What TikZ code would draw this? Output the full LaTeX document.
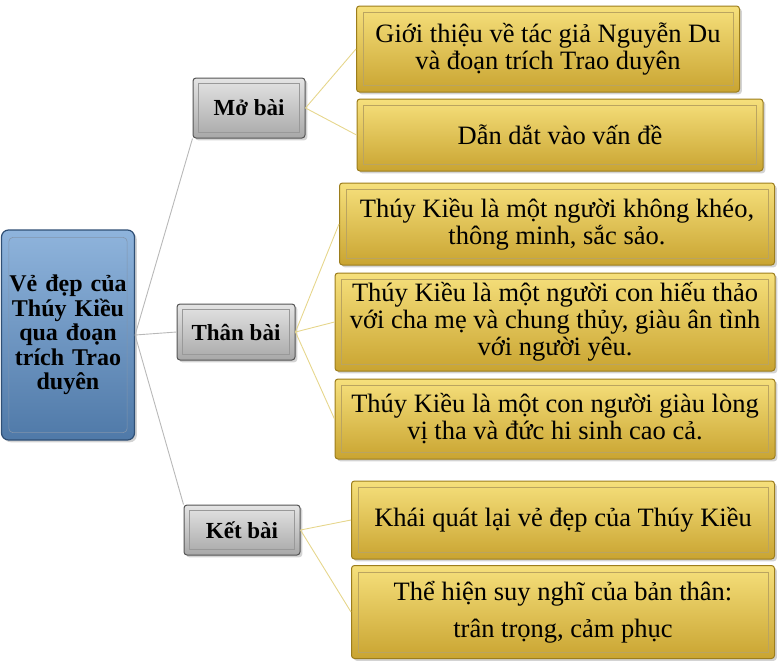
\documentclass[tikz,border=0pt]{standalone}
\usepackage{fontspec}
\setmainfont{Liberation Serif}
\usetikzlibrary{shadows,calc}
\definecolor{goldlight}{HTML}{F6E07C}
\definecolor{golddark}{HTML}{C9A431}
\definecolor{goldedge}{HTML}{9C7D1C}
\definecolor{bluelight}{HTML}{8FB4DC}
\definecolor{bluedark}{HTML}{4F79A8}
\definecolor{blueedge}{HTML}{2F4F75}
\definecolor{graylight}{HTML}{E4E4E4}
\definecolor{graydark}{HTML}{A8A8A8}
\definecolor{grayedge}{HTML}{555555}
\definecolor{lvlone}{HTML}{B8B8B8}
\definecolor{lvltwo}{HTML}{E6D68C}
\tikzset{
  rootbox/.style={rectangle, rounded corners=7pt, top color=bluelight, bottom color=bluedark,
    draw=blueedge, line width=1.2pt, drop shadow={opacity=0.35},
    align=center, font=\fontsize{24}{24.5}\selectfont\bfseries, inner sep=2pt},
  graybox/.style={rectangle, rounded corners=3pt, top color=graylight, bottom color=graydark,
    draw=grayedge, line width=1pt, drop shadow={opacity=0.35},
    font=\fontsize{23}{26}\selectfont\bfseries, inner sep=2pt},
  yellowbox/.style={rectangle, rounded corners=3pt, top color=goldlight, bottom color=golddark,
    draw=goldedge, line width=1pt, drop shadow={opacity=0.35},
    align=center, font=\fontsize{26.5}{27}\selectfont, inner sep=1pt},
  yframe/.style={draw=goldedge!70, line width=0.6pt},
  gframe/.style={draw=grayedge!60, line width=0.6pt},
  linkone/.style={draw=lvlone, line width=0.9pt},
  linktwo/.style={draw=lvltwo, line width=0.9pt},
}
\begin{document}
\begin{tikzpicture}[x=1pt,y=-1pt]
\useasboundingbox (0,0) rectangle (780,667);
% root
\node[rootbox, minimum width=133pt, minimum height=210pt, text width=129pt] (root) at (68,335)
  {Vẻ đẹp của\\Thúy Kiều\\qua đoạn\\trích Trao\\duyên};
% level one
\node[graybox, minimum width=112pt, minimum height=60pt] (mo) at (249,108) {Mở bài};
\node[graybox, minimum width=118pt, minimum height=56pt] (than) at (236,332) {Thân bài};
\node[graybox, minimum width=116pt, minimum height=50pt] (ket) at (242,530) {Kết bài};
% level two
\node[yellowbox, minimum width=383pt, minimum height=86pt] (y1) at (548,49)
  {Giới thiệu về tác giả Nguyễn Du\\và đoạn trích Trao duyên};
\node[yellowbox, minimum width=406pt, minimum height=72pt] (y2) at (560,135)
  {Dẫn dắt vào vấn đề};
\node[yellowbox, minimum width=435pt, minimum height=82pt] (y3) at (557,224)
  {Thúy Kiều là một người không khéo,\\thông minh, sắc sảo.};
\node[yellowbox, minimum width=440pt, minimum height=98pt] (y4) at (555,322)
  {Thúy Kiều là một người con hiếu thảo\\với cha mẹ và chung thủy, giàu ân tình\\với người yêu.};
\node[yellowbox, minimum width=440pt, minimum height=80pt] (y5) at (555,419)
  {Thúy Kiều là một con người giàu lòng\\vị tha và đức hi sinh cao cả.};
\node[yellowbox, minimum width=423pt, minimum height=78pt] (y6) at (563,520)
  {Khái quát lại vẻ đẹp của Thúy Kiều};
\node[yellowbox, minimum width=423pt, minimum height=93pt] (y7) at (563,612)
  {Thể hiện suy nghĩ của bản thân:\\[10pt]trân trọng, cảm phục};
% bevel frames
\foreach \n in {y1,y2,y3,y4,y5,y6,y7}
  \draw[yframe] ($(\n.north west)+(7,7)$) rectangle ($(\n.south east)+(-7,-7)$);
\foreach \n in {mo,than,ket}
  \draw[gframe] ($(\n.north west)+(6,6)$) rectangle ($(\n.south east)+(-6,-6)$);
\draw[draw=blueedge!60, line width=0.6pt, rounded corners=4pt]
  ($(root.north west)+(8,8)$) rectangle ($(root.south east)+(-8,-8)$);
% connectors
\draw[linkone] (root.east) -- (mo.south west);
\draw[linkone] (root.east) -- (than.west);
\draw[linkone] (root.east) -- (ket.north west);
\draw[linktwo] (mo.east) -- (y1.west);
\draw[linktwo] (mo.east) -- (y2.west);
\draw[linktwo] (than.east) -- (y3.west);
\draw[linktwo] (than.east) -- (y4.west);
\draw[linktwo] (than.east) -- (y5.west);
\draw[linktwo] (ket.east) -- (y6.west);
\draw[linktwo] (ket.east) -- (y7.west);
\end{tikzpicture}
\end{document}
